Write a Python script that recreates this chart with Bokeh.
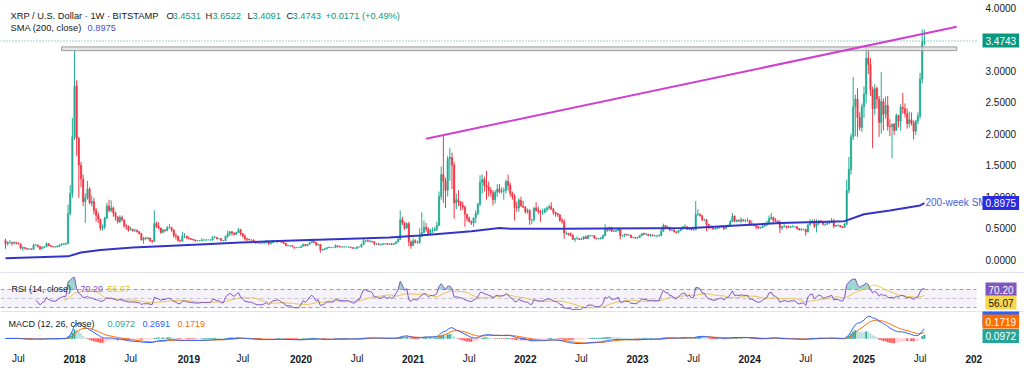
from datetime import date, timedelta
from bokeh.plotting import figure
from bokeh.models import ColumnDataSource, Range1d, Label, Span, BoxAnnotation
from bokeh.core.properties import value
from bokeh.embed import file_html
from bokeh.resources import INLINE

# ---------------- data (weekly XRP/USD, Bitstamp) ----------------
start_week = "2017-05-22"
first_open = 0.30

closes_2017 = [0.25, 0.27,
               0.27, 0.26, 0.27, 0.26,
               0.25, 0.18, 0.19, 0.18, 0.17,
               0.17, 0.16, 0.23, 0.23,
               0.21, 0.17, 0.19, 0.20,
               0.25, 0.22, 0.21, 0.20, 0.20,
               0.21, 0.23, 0.24, 0.25,
               0.25, 0.73, 1.05, 1.95]
highs_2017 = [0.33, 0.29,
              0.31, 0.28, 0.29, 0.28,
              0.27, 0.25, 0.21, 0.19, 0.18,
              0.18, 0.17, 0.25, 0.25,
              0.24, 0.21, 0.21, 0.21,
              0.27, 0.26, 0.23, 0.21, 0.21,
              0.22, 0.24, 0.26, 0.26,
              0.27, 0.87, 1.18, 2.25]
lows_2017 = [0.17, 0.22,
             0.25, 0.22, 0.24, 0.24,
             0.24, 0.17, 0.14, 0.16, 0.15,
             0.16, 0.15, 0.16, 0.22,
             0.19, 0.15, 0.17, 0.18,
             0.20, 0.21, 0.20, 0.19, 0.19,
             0.19, 0.20, 0.22, 0.23,
             0.23, 0.25, 0.70, 0.98]

closes_2018 = [2.76, 1.92, 1.50, 1.28, 0.92,
               0.98, 1.12, 0.90, 0.92,
               0.78, 0.70, 0.64, 0.50,
               0.52, 0.66, 0.85, 0.78, 0.82,
               0.74, 0.68, 0.60, 0.67,
               0.63, 0.54, 0.53, 0.47,
               0.48, 0.46, 0.46, 0.44, 0.41,
               0.31, 0.34, 0.33, 0.34,
               0.30, 0.29, 0.57, 0.53,
               0.50, 0.43, 0.47, 0.46, 0.51,
               0.51, 0.47, 0.38, 0.37,
               0.30, 0.29, 0.37, 0.37, 0.34]
highs_2018 = [3.32, 2.85, 1.95, 1.55, 1.35,
              1.05, 1.25, 1.15, 1.02,
              0.98, 0.82, 0.75, 0.65,
              0.56, 0.68, 0.90, 0.95, 0.94,
              0.84, 0.76, 0.68, 0.70,
              0.70, 0.63, 0.56, 0.54,
              0.52, 0.49, 0.49, 0.48, 0.45,
              0.42, 0.36, 0.36, 0.36,
              0.35, 0.31, 0.78, 0.60,
              0.59, 0.51, 0.49, 0.48, 0.53,
              0.56, 0.52, 0.48, 0.42,
              0.38, 0.32, 0.44, 0.42, 0.38]
lows_2018 = [1.90, 1.65, 0.98, 1.15, 0.85,
             0.58, 0.95, 0.88, 0.85,
             0.72, 0.60, 0.58, 0.46,
             0.46, 0.48, 0.64, 0.75, 0.75,
             0.68, 0.62, 0.57, 0.58,
             0.61, 0.50, 0.47, 0.44,
             0.46, 0.44, 0.44, 0.43, 0.40,
             0.30, 0.25, 0.32, 0.32,
             0.28, 0.26, 0.28, 0.50,
             0.48, 0.41, 0.42, 0.44, 0.45,
             0.49, 0.44, 0.35, 0.32,
             0.29, 0.29, 0.29, 0.34, 0.33]

closes_2019 = [0.33, 0.32, 0.31, 0.30,
               0.30, 0.30, 0.31, 0.31,
               0.31, 0.31, 0.31, 0.35,
               0.35, 0.33, 0.33, 0.30, 0.30,
               0.37, 0.41, 0.44, 0.42,
               0.40, 0.43, 0.47, 0.41,
               0.37, 0.33, 0.32, 0.31, 0.31,
               0.29, 0.27, 0.26, 0.26,
               0.26, 0.27, 0.28, 0.25, 0.27,
               0.29, 0.29, 0.30, 0.29,
               0.27, 0.26, 0.22, 0.22,
               0.22, 0.20, 0.19, 0.19, 0.19]
highs_2019 = [0.37, 0.34, 0.33, 0.32,
              0.31, 0.31, 0.34, 0.32,
              0.32, 0.32, 0.32, 0.37,
              0.38, 0.36, 0.34, 0.34, 0.31,
              0.38, 0.46, 0.45, 0.45,
              0.43, 0.44, 0.50, 0.49,
              0.42, 0.40, 0.34, 0.33, 0.32,
              0.32, 0.29, 0.28, 0.27,
              0.27, 0.28, 0.31, 0.28, 0.28,
              0.30, 0.30, 0.31, 0.31,
              0.31, 0.28, 0.26, 0.23,
              0.23, 0.22, 0.20, 0.20, 0.20]
lows_2019 = [0.32, 0.31, 0.30, 0.28,
             0.29, 0.29, 0.29, 0.30,
             0.30, 0.31, 0.30, 0.30,
             0.34, 0.32, 0.32, 0.29, 0.29,
             0.29, 0.34, 0.37, 0.38,
             0.38, 0.39, 0.42, 0.38,
             0.35, 0.30, 0.29, 0.30, 0.30,
             0.28, 0.25, 0.26, 0.25,
             0.25, 0.25, 0.26, 0.23, 0.24,
             0.26, 0.28, 0.26, 0.28,
             0.27, 0.25, 0.21, 0.21,
             0.21, 0.20, 0.17, 0.18, 0.19]

closes_2020 = [0.21, 0.24, 0.22, 0.24,
               0.27, 0.29, 0.27, 0.23,
               0.24, 0.15, 0.16, 0.17, 0.19,
               0.19, 0.19, 0.19, 0.22,
               0.21, 0.20, 0.20, 0.20,
               0.20, 0.20, 0.19, 0.18, 0.18,
               0.20, 0.20, 0.24, 0.30,
               0.30, 0.29, 0.29, 0.28, 0.25,
               0.25, 0.24, 0.24, 0.25,
               0.25, 0.24, 0.25, 0.24,
               0.25, 0.28, 0.32, 0.63, 0.58,
               0.50, 0.57, 0.28, 0.22]
highs_2020 = [0.22, 0.25, 0.24, 0.25,
              0.28, 0.33, 0.30, 0.28,
              0.25, 0.24, 0.17, 0.18, 0.19,
              0.21, 0.20, 0.20, 0.24,
              0.22, 0.21, 0.21, 0.21,
              0.21, 0.21, 0.20, 0.19, 0.19,
              0.21, 0.20, 0.25, 0.33,
              0.31, 0.32, 0.31, 0.29, 0.29,
              0.26, 0.26, 0.25, 0.26,
              0.26, 0.26, 0.26, 0.26,
              0.26, 0.29, 0.34, 0.78, 0.68,
              0.60, 0.59, 0.60, 0.30]
lows_2020 = [0.19, 0.21, 0.21, 0.21,
             0.24, 0.27, 0.26, 0.22,
             0.22, 0.11, 0.14, 0.15, 0.17,
             0.18, 0.18, 0.19, 0.19,
             0.19, 0.19, 0.19, 0.19,
             0.20, 0.19, 0.18, 0.17, 0.17,
             0.17, 0.19, 0.19, 0.23,
             0.27, 0.28, 0.27, 0.27, 0.22,
             0.23, 0.23, 0.22, 0.23,
             0.24, 0.24, 0.24, 0.23,
             0.23, 0.25, 0.27, 0.31, 0.55,
             0.47, 0.49, 0.21, 0.17]

closes_2021 = [0.30, 0.27, 0.27, 0.37,
               0.43, 0.51, 0.48, 0.41,
               0.46, 0.46, 0.48, 0.54, 1.00,
               1.35, 1.25, 1.10, 1.60,
               1.62, 1.50, 0.90, 0.95, 0.92,
               0.86, 0.83, 0.72, 0.65,
               0.60, 0.58, 0.66, 0.73,
               0.88, 1.23, 1.27, 1.18, 1.15,
               1.10, 1.06, 0.95, 1.07,
               1.12, 1.08, 1.09, 1.10,
               1.24, 1.18, 1.05, 1.00, 0.83,
               0.82, 0.94, 0.85, 0.83]
highs_2021 = [0.34, 0.32, 0.30, 0.50,
              0.75, 0.62, 0.58, 0.51,
              0.49, 0.51, 0.52, 0.60, 1.08,
              1.48, 1.97, 1.30, 1.65,
              1.77, 1.70, 1.55, 1.05, 1.10,
              0.92, 0.92, 0.86, 0.72,
              0.68, 0.62, 0.67, 0.78,
              0.90, 1.34, 1.35, 1.32, 1.41,
              1.24, 1.15, 1.10, 1.10,
              1.20, 1.20, 1.15, 1.14,
              1.27, 1.35, 1.22, 1.08, 1.04,
              0.92, 0.98, 1.00, 0.93]
lows_2021 = [0.23, 0.26, 0.25, 0.25,
             0.36, 0.42, 0.44, 0.38,
             0.41, 0.42, 0.45, 0.45, 0.54,
             0.95, 0.90, 0.82, 1.00,
             1.25, 1.12, 0.65, 0.80, 0.85,
             0.78, 0.79, 0.52, 0.61,
             0.59, 0.55, 0.52, 0.58,
             0.70, 0.85, 1.05, 1.08, 0.95,
             1.00, 1.00, 0.86, 0.89,
             1.00, 1.05, 1.05, 0.95,
             1.05, 1.10, 1.00, 0.95, 0.62,
             0.76, 0.76, 0.84, 0.82]

closes_2022 = [0.76, 0.78, 0.63, 0.63, 0.82,
               0.78, 0.76, 0.75, 0.75,
               0.79, 0.82, 0.84, 0.80,
               0.75, 0.73, 0.71, 0.62,
               0.60, 0.42, 0.42, 0.40, 0.38,
               0.32, 0.33, 0.33, 0.32,
               0.33, 0.36, 0.33, 0.38,
               0.38, 0.38, 0.34, 0.33, 0.33,
               0.34, 0.38, 0.49, 0.47,
               0.51, 0.45, 0.45, 0.46, 0.49,
               0.38, 0.38, 0.40, 0.39,
               0.39, 0.35, 0.35, 0.34]
highs_2022 = [0.85, 0.81, 0.80, 0.64, 0.83,
              0.91, 0.84, 0.79, 0.81,
              0.82, 0.84, 0.87, 0.91,
              0.82, 0.76, 0.74, 0.72,
              0.66, 0.64, 0.45, 0.42, 0.43,
              0.41, 0.34, 0.37, 0.34,
              0.35, 0.37, 0.38, 0.39,
              0.39, 0.39, 0.39, 0.35, 0.34,
              0.36, 0.40, 0.56, 0.51,
              0.52, 0.52, 0.47, 0.47, 0.51,
              0.50, 0.39, 0.41, 0.41,
              0.40, 0.39, 0.36, 0.36]
lows_2022 = [0.73, 0.73, 0.55, 0.56, 0.60,
             0.76, 0.72, 0.60, 0.71,
             0.74, 0.76, 0.79, 0.79,
             0.71, 0.68, 0.68, 0.60,
             0.57, 0.33, 0.39, 0.38, 0.37,
             0.31, 0.28, 0.32, 0.31,
             0.31, 0.31, 0.33, 0.33,
             0.36, 0.37, 0.33, 0.32, 0.32,
             0.32, 0.32, 0.37, 0.44,
             0.45, 0.44, 0.44, 0.44, 0.45,
             0.32, 0.36, 0.36, 0.38,
             0.38, 0.34, 0.34, 0.33]

closes_2023 = [0.35, 0.38, 0.41, 0.40, 0.40,
               0.38, 0.39, 0.38, 0.38,
               0.38, 0.38, 0.45, 0.54,
               0.51, 0.51, 0.47, 0.47,
               0.44, 0.43, 0.46, 0.49, 0.52,
               0.52, 0.48, 0.50, 0.47,
               0.47, 0.72, 0.72, 0.70, 0.63,
               0.63, 0.56, 0.52, 0.51,
               0.49, 0.49, 0.51, 0.52,
               0.53, 0.49, 0.53, 0.54, 0.60,
               0.69, 0.61, 0.62, 0.61,
               0.63, 0.62, 0.62, 0.62]
highs_2023 = [0.36, 0.39, 0.42, 0.43, 0.42,
              0.41, 0.41, 0.40, 0.39,
              0.39, 0.40, 0.52, 0.57,
              0.54, 0.54, 0.52, 0.48,
              0.48, 0.45, 0.47, 0.50, 0.53,
              0.56, 0.53, 0.52, 0.51,
              0.49, 0.93, 0.80, 0.73, 0.70,
              0.65, 0.64, 0.54, 0.54,
              0.52, 0.50, 0.53, 0.53,
              0.55, 0.53, 0.54, 0.56, 0.63,
              0.74, 0.70, 0.64, 0.64,
              0.67, 0.64, 0.64, 0.66]
lows_2023 = [0.33, 0.34, 0.37, 0.39, 0.39,
             0.37, 0.36, 0.37, 0.36,
             0.35, 0.36, 0.37, 0.44,
             0.49, 0.49, 0.45, 0.45,
             0.43, 0.41, 0.42, 0.45, 0.47,
             0.49, 0.47, 0.47, 0.46,
             0.46, 0.47, 0.69, 0.68, 0.61,
             0.61, 0.45, 0.48, 0.49,
             0.47, 0.47, 0.49, 0.49,
             0.50, 0.47, 0.49, 0.52, 0.54,
             0.60, 0.59, 0.59, 0.60,
             0.58, 0.60, 0.59, 0.60]

closes_2024 = [0.56, 0.56, 0.54, 0.52, 0.50,
               0.51, 0.53, 0.55, 0.57,
               0.65, 0.67, 0.62, 0.61,
               0.58, 0.50, 0.52, 0.53, 0.52,
               0.51, 0.52, 0.52, 0.52,
               0.49, 0.47, 0.48, 0.48,
               0.44, 0.55, 0.60, 0.61, 0.53,
               0.57, 0.61, 0.60, 0.56,
               0.56, 0.58, 0.59, 0.61, 0.53,
               0.54, 0.54, 0.52, 0.51,
               0.56, 1.10, 1.43, 1.95,
               2.43, 2.55, 2.26, 2.10, 2.43]
highs_2024 = [0.63, 0.62, 0.57, 0.54, 0.53,
              0.52, 0.55, 0.56, 0.62,
              0.70, 0.74, 0.68, 0.66,
              0.62, 0.63, 0.53, 0.56, 0.54,
              0.54, 0.54, 0.55, 0.53,
              0.53, 0.50, 0.50, 0.49,
              0.48, 0.56, 0.64, 0.64, 0.64,
              0.64, 0.63, 0.63, 0.61,
              0.57, 0.59, 0.60, 0.66, 0.64,
              0.55, 0.56, 0.55, 0.53,
              0.58, 1.27, 1.63, 2.00,
              2.90, 2.62, 2.72, 2.34, 2.48]
lows_2024 = [0.53, 0.54, 0.53, 0.48, 0.49,
             0.49, 0.50, 0.52, 0.53,
             0.56, 0.63, 0.56, 0.60,
             0.56, 0.42, 0.47, 0.51, 0.49,
             0.50, 0.50, 0.51, 0.51,
             0.48, 0.46, 0.46, 0.46,
             0.38, 0.43, 0.54, 0.57, 0.50,
             0.43, 0.55, 0.58, 0.54,
             0.53, 0.55, 0.56, 0.58, 0.50,
             0.52, 0.53, 0.51, 0.50,
             0.50, 0.55, 1.05, 1.35,
             1.90, 1.96, 1.95, 2.05, 2.03]

closes_2025 = [2.63, 3.20, 3.10, 2.70,
               2.40, 2.72, 2.55, 2.18,
               2.51, 2.31, 2.45, 2.12, 2.11,
               2.15, 2.05, 2.29, 2.20,
               2.42, 2.40, 2.32, 2.16,
               2.22, 2.17, 2.04, 2.20, 2.28,
               2.87, 3.4531, 3.4743]
highs_2025 = [2.75, 3.40, 3.34, 3.20,
              2.75, 2.79, 2.75, 2.60,
              2.98, 2.56, 2.59, 2.60, 2.23,
              2.16, 2.17, 2.32, 2.30,
              2.47, 2.65, 2.48, 2.40,
              2.35, 2.34, 2.21, 2.22, 2.34,
              2.97, 3.66, 3.6522]
lows_2025 = [2.25, 2.48, 2.95, 2.60,
             1.77, 2.30, 2.40, 1.95,
             2.00, 2.05, 2.24, 2.05, 1.96,
             1.61, 1.98, 2.05, 2.10,
             2.05, 2.32, 2.26, 2.08,
             2.10, 2.13, 1.91, 1.98, 2.15,
             2.24, 2.80, 3.4091]

# 200-week SMA
sma_dates = ["2017-05-22", "2017-12-11", "2018-01-22", "2018-03-26", "2018-07-09",
             "2019-02-11", "2019-06-24", "2019-09-30", "2020-02-03", "2020-06-15",
             "2020-10-19", "2021-01-25", "2021-04-05", "2021-07-12", "2021-10-11",
             "2021-11-15", "2022-04-25", "2023-06-26", "2024-04-08", "2024-11-04",
             "2025-01-06", "2025-03-31", "2025-07-07", "2025-07-21"]
sma_values = [0.02, 0.05, 0.11, 0.15, 0.19,
              0.24, 0.27, 0.29, 0.31, 0.33,
              0.35, 0.38, 0.41, 0.45, 0.50,
              0.49, 0.49, 0.50, 0.58, 0.61,
              0.72, 0.78, 0.86, 0.8975]

# drawings
trend_dates = ["2021-02-15", "2025-11-03"]
trend_prices = [1.92, 3.70]
zone_dates = ["2017-11-20", "2025-11-03"]
zone_prices = [3.32, 3.38]

price_ticks = [0.0, 0.5, 1.0, 1.5, 2.0, 2.5, 3.0, 3.5, 4.0]
time_years = [2018, 2019, 2020, 2021, 2022, 2023, 2024, 2025, 2026]
time_year_labels = ["2018", "2019", "2020", "2021", "2022", "2023", "2024", "2025", "202"]
time_jul_years = [2017, 2018, 2019, 2020, 2021, 2022, 2023, 2024, 2025]
last_close = 3.4743
sma_last = 0.8975
rsi_last, rsi_ma_last = 70.20, 56.07
macd_hist_last, macd_last, macd_signal_last = 0.0972, 0.2691, 0.1719

# ---------------- derived series ----------------
closes = (closes_2017 + closes_2018 + closes_2019 + closes_2020 + closes_2021 +
          closes_2022 + closes_2023 + closes_2024 + closes_2025)
highs_raw = (highs_2017 + highs_2018 + highs_2019 + highs_2020 + highs_2021 +
             highs_2022 + highs_2023 + highs_2024 + highs_2025)
lows_raw = (lows_2017 + lows_2018 + lows_2019 + lows_2020 + lows_2021 +
            lows_2022 + lows_2023 + lows_2024 + lows_2025)
n = min(len(closes), len(highs_raw), len(lows_raw))
closes = closes[:n]
opens = [first_open] + closes[:-1]
highs = [max(highs_raw[i], opens[i], closes[i]) for i in range(n)]
lows = [min(lows_raw[i], opens[i], closes[i]) for i in range(n)]
idx = list(range(n))
start = date.fromisoformat(start_week)


def week_of(s):
    return (date.fromisoformat(s) - start).days / 7.0


def first_monday(y, m):
    d = date(y, m, 1)
    while d.weekday() != 0:
        d += timedelta(days=1)
    return (d - start).days // 7


UP, DOWN = "#22ab94", "#f23645"
colors = [UP if closes[i] >= opens[i] else DOWN for i in range(n)]


def rsi_wilder(c, k=14):
    out = [float("nan")] * len(c)
    g = [0.0] + [max(c[i] - c[i - 1], 0) for i in range(1, len(c))]
    l = [0.0] + [max(c[i - 1] - c[i], 0) for i in range(1, len(c))]
    ag = sum(g[1:k + 1]) / k
    al = sum(l[1:k + 1]) / k
    out[k] = 100 if al == 0 else 100 - 100 / (1 + ag / al)
    for i in range(k + 1, len(c)):
        ag = (ag * (k - 1) + g[i]) / k
        al = (al * (k - 1) + l[i]) / k
        out[i] = 100 if al == 0 else 100 - 100 / (1 + ag / al)
    return out


def ema(v, k):
    a = 2.0 / (k + 1)
    e = v[0]
    out = []
    for x in v:
        e = e + a * (x - e)
        out.append(e)
    return out


rsi = rsi_wilder(closes)
rsi_ma = [float("nan")] * n
for i in range(14 + 13, n):
    rsi_ma[i] = sum(rsi[i - 13:i + 1]) / 14
e12, e26 = ema(closes, 12), ema(closes, 26)
macd = [a - b for a, b in zip(e12, e26)]
signal = ema(macd, 9)
hist = [a - b for a, b in zip(macd, signal)]
hist_colors = []
for i in range(n):
    prev = hist[i - 1] if i > 0 else 0
    if hist[i] >= 0:
        hist_colors.append("#26a69a" if hist[i] >= prev else "#b2dfdb")
    else:
        hist_colors.append("#ffcdd2" if hist[i] >= prev else "#ff5252")

# ---------------- pixel geometry helpers ----------------
X0_PX, PX_PER_WEEK = 5.0, 2.157
W, H = 1024, 371
PANE_RIGHT = 976


def px_x(px):
    return (px - X0_PX) / PX_PER_WEEK


def py_price(py):
    return (259.0 - py) / 62.9


def py_rsi(py):
    return 50 + (298.0 - py) / 0.45


def py_macd(py):
    return (338.0 - py) / 36.0


FONT = "Liberation Sans"
DARK = "#131722"

p = figure(width=W, height=H, output_backend="svg", toolbar_location=None,
           x_range=Range1d(px_x(0), px_x(W)),
           y_range=Range1d(py_price(H), py_price(0)),
           x_axis_location=None, y_axis_location=None,
           min_border=0, min_border_left=0, min_border_right=0, min_border_top=0, min_border_bottom=0,
           background_fill_color="white", border_fill_color="white", outline_line_color=None)
p.extra_y_ranges = {"rsi": Range1d(py_rsi(H), py_rsi(0)),
                    "macd": Range1d(py_macd(H), py_macd(0))}
p.xgrid.visible = False
p.ygrid.visible = False

try:
    from bokeh.models import GlobalInlineStyleSheet
    p.stylesheets = [GlobalInlineStyleSheet(css="html, body { margin: 0 !important; padding: 0 !important; overflow: hidden; }")]
except Exception:
    pass

XL, XR = px_x(0), px_x(PANE_RIGHT)

# pane separators
for py in (272, 311):
    p.add_layout(Span(location=py_price(py), dimension="width", line_color="#e0e3eb", line_width=1))

# last price dotted line
p.segment(x0=[XL], x1=[px_x(978)], y0=[last_close], y1=[last_close], line_color="#089981",
          line_dash="1 2", line_width=1, line_alpha=0.8)

# candles
src = ColumnDataSource(dict(x=idx, o=opens, h=highs, l=lows, c=closes, col=colors))
p.segment(x0="x", y0="l", x1="x", y1="h", color="col", line_width=1, source=src)
p.vbar(x="x", width=0.65, top="o", bottom="c", fill_color="col", line_color="col",
       line_width=0.5, source=src)

# 200-week SMA
p.line([week_of(d) for d in sma_dates], sma_values, line_color="#3434c8", line_width=2)

# resistance zone and trend line
p.quad(left=[week_of(zone_dates[0])], right=[week_of(zone_dates[1])],
       bottom=[zone_prices[0]], top=[zone_prices[1]],
       fill_color="#dcdcdc", fill_alpha=0.75, line_color="#9a9a9a", line_width=1)
p.line([week_of(d) for d in trend_dates], trend_prices, line_color="#d13fd1", line_width=2)

# RSI pane
p.add_layout(BoxAnnotation(bottom=30, top=70, right=XR, y_range_name="rsi", fill_color="#7e57c2",
                           fill_alpha=0.08, line_color=None))
for lv, a in ((70, 0.9), (50, 0.5), (30, 0.9)):
    p.segment(x0=[XL], x1=[XR], y0=[lv], y1=[lv], y_range_name="rsi", line_color="#9598a1",
              line_dash="4 3", line_width=1, line_alpha=a)
rx = idx[14:]
rv = rsi[14:]
p.varea(x=rx, y1=[70] * len(rv), y2=[max(v, 70) for v in rv], y_range_name="rsi",
        fill_color="#26a69a", fill_alpha=0.45)
p.line(idx[27:], rsi_ma[27:], y_range_name="rsi", line_color="#f5cd4a", line_width=1)
p.line(rx, rv, y_range_name="rsi", line_color="#7e57c2", line_width=1)

# MACD pane
p.vbar(x=idx, top=hist, bottom=0, width=0.65, fill_color=hist_colors, line_color=hist_colors,
       line_width=0.5, y_range_name="macd")
p.line(idx, signal, y_range_name="macd", line_color="#ff6d00", line_width=1)
p.line(idx, macd, y_range_name="macd", line_color="#2962ff", line_width=1)

# price scale (right)
p.text(x=[px_x(985)] * len(price_ticks), y=price_ticks,
       text=[f"{t:.4f}" for t in price_ticks], text_font=value(FONT), text_font_size="10px",
       text_color=DARK, text_baseline="middle", text_align="left")

# time scale (bottom)
yt = py_price(358)
year_x = [first_monday(y, 1) for y in time_years]
p.text(x=year_x[:-1], y=[yt] * (len(year_x) - 1), text=time_year_labels[:-1],
       text_font=value(FONT), text_font_size="10px", text_font_style="bold",
       text_color=DARK, text_baseline="middle", text_align="center")
p.text(x=[px_x(965)], y=[yt], text=[time_year_labels[-1]],
       text_font=value(FONT), text_font_size="10px", text_font_style="bold",
       text_color=DARK, text_baseline="middle", text_align="left")
jul_x = [first_monday(y, 7) for y in time_jul_years]
p.text(x=jul_x, y=[yt] * len(jul_x), text=["Jul"] * len(jul_x),
       text_font=value(FONT), text_font_size="10px",
       text_color=DARK, text_baseline="middle", text_align="center")


# ---------------- texts ----------------
def txt(text, px, y, color=DARK, size="9px", style="normal", rng=None, bg=None, align="left"):
    kw = dict(x=px_x(px), y=y, text=text, text_color=color, text_font=FONT,
              text_font_size=size, text_font_style=style, text_baseline="middle",
              text_align=align)
    if rng:
        kw["y_range_name"] = rng
    if bg:
        kw["background_fill_color"] = bg
        kw["padding"] = 3
    p.add_layout(Label(**kw))


G = "#089981"
HS = "9.3px"
y1 = py_price(15)
txt("XRP / U.S. Dollar \u00b7 1W \u00b7 BITSTAMP", 10, y1, size=HS)
for letter, val, xl, xv in (("O", "3.4531", 166, 172), ("H", "3.6522", 205, 212),
                            ("L", "3.4091", 247, 252), ("C", f"{last_close:.4f}", 286, 292)):
    txt(letter, xl, y1, size=HS)
    txt(val, xv, y1, color=G, size=HS)
txt("+0.0171 (+0.49%)", 325, y1, color=G, size=HS)
y2 = py_price(27)
txt("SMA (200, close)", 10, y2, size=HS)
txt(f"{sma_last:.4f}", 87, y2, color="#4b4bd0", size=HS)

txt("RSI (14, close)", 11, py_rsi(288), rng="rsi")
txt(f"{rsi_last:.2f}", 80, py_rsi(288), color="#7e57c2", rng="rsi")
txt(f"{rsi_ma_last:.2f}", 107, py_rsi(288), color="#e3bd2c", rng="rsi")

txt("MACD (12, 26, close)", 8, py_macd(323), rng="macd")
txt(f"{macd_hist_last:.4f}", 107, py_macd(323), color="#26a69a", rng="macd")
txt(f"{macd_last:.4f}", 142, py_macd(323), color="#2962ff", rng="macd")
txt(f"{macd_signal_last:.4f}", 177, py_macd(323), color="#ff6d00", rng="macd")

txt("200-week SMA", 925, py_price(202), color="#4a5fd8", size="10px")

# right-hand value boxes
txt(f"{last_close:.4f}", 982, py_price(40), color="white", size="10px", bg="#089981")
txt(f"{sma_last:.4f}", 982, py_price(202.5), color="white", size="10px", bg="#2b2be0")
txt(f"{rsi_last:.2f}", 985, py_rsi(289), color="white", size="10px", bg="#7e57c2", rng="rsi")
txt(f"{rsi_ma_last:.2f}", 985, py_rsi(302), color=DARK, size="10px", bg="#f7d74c", rng="rsi")
txt(f"{macd_last:.4f}", 982, py_macd(318), color="white", size="10px", bg="#2962ff", rng="macd")
txt(f"{macd_signal_last:.4f}", 982, py_macd(321), color="white", size="10px", bg="#ff6d00", rng="macd")
txt(f"{macd_hist_last:.4f}", 982, py_macd(335.5), color="white", size="10px", bg="#26a69a", rng="macd")

open("out.html", "w").write(file_html(p, INLINE))
